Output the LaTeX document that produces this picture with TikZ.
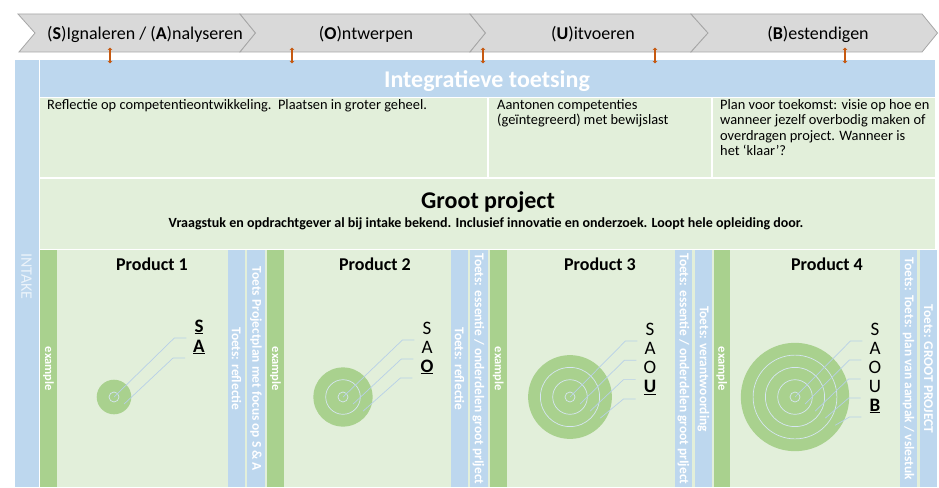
\documentclass[tikz,border=0pt]{standalone}
\usepackage{fontspec}
\setmainfont{Carlito}
\usetikzlibrary{arrows.meta}
\definecolor{lblue}{HTML}{BDD7EE}
\definecolor{lgreen}{HTML}{E2EFDA}
\definecolor{mgreen}{HTML}{A9D18E}
\definecolor{chevfill}{HTML}{D9D9D9}
\definecolor{chevdraw}{HTML}{A6A6A6}
\definecolor{orng}{HTML}{C65911}
\definecolor{ringc}{HTML}{D6E6F2}
\definecolor{leadc}{HTML}{B7D0E8}
\newcommand\tgtletter[1]{\ifcase#1\or S\or A\or O\or U\or B\fi}
\newcommand\vbar[5]{\fill[#4] (#2,250) rectangle (#3,487); \node[bartext] (#1) at ({(#2+#3)/2},369) {#5};}
\tikzset{
  chev/.style={fill=chevfill, draw=chevdraw, line width=0.8pt, line join=miter},
  chevlabel/.style={font=\fontsize{18}{20}\selectfont, anchor=base, inner sep=0pt},
  titletext/.style={font=\bfseries\fontsize{24}{26}\selectfont, text=white, anchor=base, inner sep=0pt},
  bigtitle/.style={font=\bfseries\fontsize{24}{26}\selectfont, anchor=base, inner sep=0pt},
  subtext/.style={font=\bfseries\fontsize{14}{16}\selectfont, anchor=base, inner sep=0pt},
  celltext/.style={font=\fontsize{14.4}{15.3}\selectfont, anchor=north west, align=left, inner sep=0pt},
  prodtitle/.style={font=\bfseries\fontsize{18}{20}\selectfont, anchor=base, inner sep=0pt},
  bartext/.style={rotate=-90, text=white, font=\bfseries\fontsize{13.4}{13.4}\selectfont, inner sep=0pt},
  intaketext/.style={rotate=-90, text=white!70!lblue, font=\fontsize{16}{16}\selectfont, anchor=west, inner sep=0pt},
  orngarrow/.style={draw=orng, line width=1.9pt, {Stealth[length=2.6pt,width=4.8pt]}-{Stealth[length=2.6pt,width=4.8pt]}},
  tlabel/.style={font=\fontsize{19}{20}\selectfont, anchor=base, inner sep=0pt},
  ringline/.style={draw=ringc, line width=0.7pt},
  leadline/.style={draw=leadc, line width=0.7pt}
}
\newcommand\exword{{\fontsize{12.5}{12.5}\selectfont example}}
\begin{document}
\begin{tikzpicture}[x=1pt,y=-1pt]
\fill[white] (0,0) rectangle (939,487);
\useasboundingbox (0,0) rectangle (939,487);

% phase chevrons
\draw[chev] (18,14) -- (240,14) -- (255.5,33) -- (240,52) -- (19,52) -- (35,33) -- cycle;
\draw[chev] (240,14) -- (470,14) -- (485.5,33) -- (470,52) -- (240,52) -- (255.5,33) -- cycle;
\draw[chev] (470,14) -- (691,14) -- (708,33) -- (691,52) -- (470,52) -- (485.5,33) -- cycle;
\draw[chev] (691,14) -- (922,14) -- (937.5,33) -- (922,52) -- (691,52) -- (708,33) -- cycle;
\node[chevlabel] (c1) at (145,39.5) {(\textbf{S})Ignaleren / (\textbf{A})nalyseren};
\node[chevlabel] (c2) at (366,39.5) {(\textbf{O})ntwerpen};
\node[chevlabel] (c3) at (593,39.5) {(\textbf{U})itvoeren};
\node[chevlabel] (c4) at (818,39.5) {(\textbf{B})estendigen};

% frame
\fill[lblue] (15,60) rectangle (38.5,487);
\fill[lblue] (40,60) rectangle (935,96.5);
\node[titletext] (hdr) at (487,88) {Integratieve toetsing};
\node[intaketext] (intake) at (26.5,253) {INTAKE};

% orange arrows
\foreach \i/\x in {1/110,2/292,3/483,4/655,5/845}{
  \coordinate (at\i) at (\x,47.5);
  \coordinate (ab\i) at (\x,63.5);
  \draw[orngarrow] (at\i) -- (ab\i);
}

% row 2
\fill[lgreen] (40,98) rectangle (487,177);
\fill[lgreen] (488.5,98) rectangle (711,177);
\fill[lgreen] (712.5,98) rectangle (935,177);
\node[celltext] (t1) at (47,99.5) {Reflectie op competentieontwikkeling.\ \ Plaatsen in groter geheel.};
\node[celltext] (t2) at (497,99.5) {Aantonen competenties\\(geïntegreerd) met bewijslast};
\node[celltext] (t3) at (720,99.5) {Plan voor toekomst: visie op hoe en\\wanneer jezelf overbodig maken of\\overdragen project. Wanneer is\\het ‘klaar’?};

% row 3
\fill[lgreen] (40,178.5) rectangle (935,248.5);
\node[bigtitle] (gp) at (488,208) {Groot project};
\node[subtext] (gps) at (486,227) {Vraagstuk en opdrachtgever al bij intake bekend. Inclusief innovatie en onderzoek. Loopt hele opleiding door.};

% products
\fill[lgreen] (40,250) rectangle (937,487);
\vbar{b1}{40}{57}{mgreen}{\exword}
\vbar{b2}{228}{245}{lblue}{Toets: reflectie}
\vbar{b3}{247}{265}{lblue}{Toets Projectplan met focus op S \& A}
\vbar{b4}{267}{284}{mgreen}{\exword}
\vbar{b5}{451}{468}{lblue}{Toets: reflectie}
\vbar{b6}{469.5}{487.5}{lblue}{Toets: essentie / onderdelen groot prIject}
\vbar{b7}{489.5}{507}{mgreen}{\exword}
\vbar{b8}{675}{692}{lblue}{Toets: essentie / onderdelen groot prIject}
\vbar{b9}{695}{712}{lblue}{Toets: verantwoording}
\vbar{b10}{713.5}{730}{mgreen}{\exword}
\vbar{b11}{900}{917}{lblue}{Toets: Toets: plan van aanpak / vslestuk}
\vbar{b12}{920}{937}{lblue}{Toets: GROOT PROJECT}

\node[prodtitle] (p1) at (152,270) {Product 1};
\node[prodtitle] (p2) at (375,270) {Product 2};
\node[prodtitle] (p3) at (600,270) {Product 3};
\node[prodtitle] (p4) at (827,270) {Product 4};

% targets
\foreach \p/\cx/\nn/\lx/\ly/\dy in {1/114/2/199/326/20, 2/343/3/427/328/19, 3/570/4/650/329/19.3, 4/795/5/875/329/19}{
  \pgfmathsetmacro\R{5+12.3*(\nn-1)}
  \fill[mgreen] (\cx,397) circle[radius=\R];
  \pgfmathtruncatemacro\nm{\nn-1}
  \foreach \k in {1,...,\nm}{
    \pgfmathsetmacro\rr{5+12.3*(\k-1)}
    \draw[ringline] (\cx,397) circle[radius=\rr];
  }
  \foreach \k in {1,...,\nn}{
    \pgfmathsetmacro\yy{\ly+\dy*(\k-1)+6}
    \pgfmathsetmacro\dd{12.3*(\k-1)}
    \pgfmathtruncatemacro\isbold{((\k==\nn)||(\p==1)) ? 1 : 0}
    \coordinate (e\p\k) at ({\cx+\dd*cos(35)},{397+\dd*sin(35)});
    \node[tlabel] (l\p\k) at (\lx,\yy) {\ifnum\isbold=1 \underline{\textbf{\tgtletter{\k}}}\else\tgtletter{\k}\fi};
    \draw[leadline] ([xshift=-8pt,yshift=-6pt]l\p\k.base west) -- ++(-12,0) -- (e\p\k);
  }
}
\end{tikzpicture}
\end{document}
